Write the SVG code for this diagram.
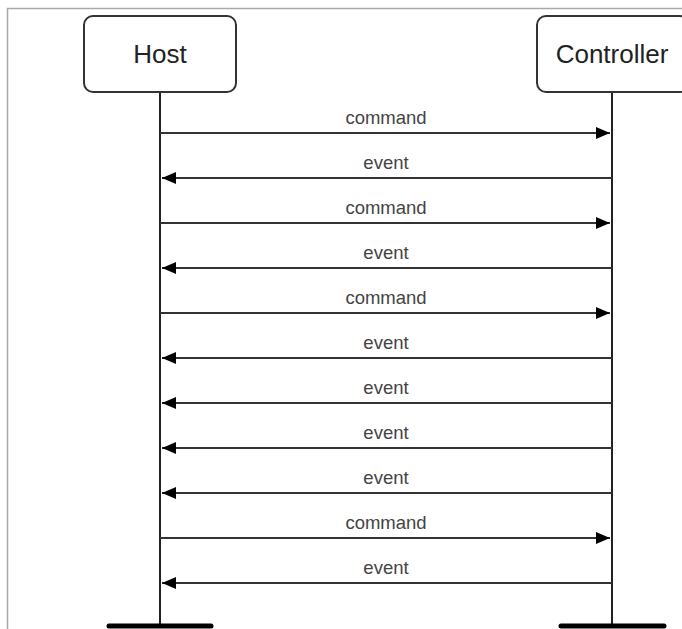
<svg xmlns="http://www.w3.org/2000/svg" width="682" height="629" viewBox="0 0 682 629">
<defs>
<style>
.frame{fill:none;stroke:#a8a8a8;stroke-width:1.5}
.box{fill:#fff;stroke:#333;stroke-width:2}
.title{font-family:"Liberation Sans",Arial,sans-serif;font-size:26px;fill:#222;text-anchor:middle}
.life{stroke:#222;stroke-width:2;fill:none}
.bar{stroke:#000;stroke-width:5;stroke-linecap:round}
.msg{stroke:#333;stroke-width:2;fill:none}
.lbl{font-family:"Liberation Sans",Arial,sans-serif;font-size:18.5px;fill:#444;text-anchor:middle}
</style>
<marker id="ah" viewBox="0 0 14 12" refX="14" refY="6" markerWidth="14" markerHeight="12" markerUnits="userSpaceOnUse" orient="auto">
<path d="M0,0 L14,6 L0,12 Z" fill="#000"/>
</marker>
</defs>
<rect width="682" height="629" fill="#fff"/>
<path class="frame" d="M7.5,629 V8.5 H682"/>
<g id="host">
<line class="life" x1="160" y1="92" x2="160" y2="626"/>
<rect class="box" x="84" y="16" width="152" height="76" rx="9"/>
<text class="title" x="160" y="63">Host</text>
<line class="bar" x1="109" y1="626" x2="211" y2="626"/>
</g>
<g id="controller">
<line class="life" x1="612" y1="92" x2="612" y2="626"/>
<rect class="box" x="537" y="16" width="152" height="76" rx="9"/>
<text class="title" x="612" y="63">Controller</text>
<line class="bar" x1="561" y1="626" x2="664" y2="626"/>
</g>
<g id="messages">
<line class="msg" x1="160" y1="133" x2="610" y2="133" marker-end="url(#ah)"/>
<text class="lbl" x="386" y="124">command</text>
<line class="msg" x1="612" y1="178" x2="162" y2="178" marker-end="url(#ah)"/>
<text class="lbl" x="386" y="169">event</text>
<line class="msg" x1="160" y1="223" x2="610" y2="223" marker-end="url(#ah)"/>
<text class="lbl" x="386" y="214">command</text>
<line class="msg" x1="612" y1="268" x2="162" y2="268" marker-end="url(#ah)"/>
<text class="lbl" x="386" y="259">event</text>
<line class="msg" x1="160" y1="313" x2="610" y2="313" marker-end="url(#ah)"/>
<text class="lbl" x="386" y="304">command</text>
<line class="msg" x1="612" y1="358" x2="162" y2="358" marker-end="url(#ah)"/>
<text class="lbl" x="386" y="349">event</text>
<line class="msg" x1="612" y1="403" x2="162" y2="403" marker-end="url(#ah)"/>
<text class="lbl" x="386" y="394">event</text>
<line class="msg" x1="612" y1="448" x2="162" y2="448" marker-end="url(#ah)"/>
<text class="lbl" x="386" y="439">event</text>
<line class="msg" x1="612" y1="493" x2="162" y2="493" marker-end="url(#ah)"/>
<text class="lbl" x="386" y="484">event</text>
<line class="msg" x1="160" y1="538" x2="610" y2="538" marker-end="url(#ah)"/>
<text class="lbl" x="386" y="529">command</text>
<line class="msg" x1="612" y1="583" x2="162" y2="583" marker-end="url(#ah)"/>
<text class="lbl" x="386" y="574">event</text>
</g>
</svg>
